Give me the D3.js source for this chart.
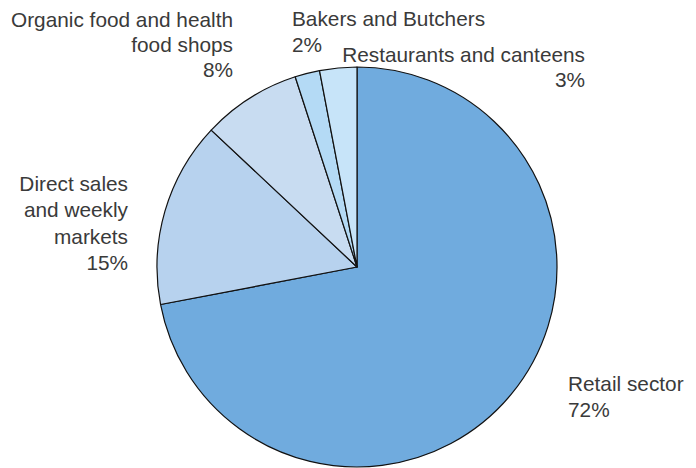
<!DOCTYPE html>
<html><head><meta charset="utf-8">
<script src="https://cdn.jsdelivr.net/npm/d3@7"></script>
<style>html,body{margin:0;padding:0;background:#fff;}svg{display:block;}</style>
</head><body>
<svg id="chart" width="696" height="468"></svg>
<script>
const categories = ["Retail sector", "Direct sales and weekly markets", "Organic food and health food shops", "Bakers and Butchers", "Restaurants and canteens"];
const values = [72, 15, 8, 2, 3];
const labelLines = [
  ["Retail sector", "72%"],
  ["Direct sales", "and weekly", "markets", "15%"],
  ["Organic food and health", "food shops", "8%"],
  ["Bakers and Butchers", "2%"],
  ["Restaurants and canteens", "3%"]
];
const colors = ["#70abde", "#b7d2ee", "#c8dcf1", "#b4daf5", "#c7e4f9"];

// layout (kept separate from data)
const cx = 357, cy = 267, R = 200;
const labelLayout = [
  {x: 568, y: 391, anchor: "start", lh: 26},
  {x: 128, y: 191, anchor: "end", lh: 26.3},
  {x: 233, y: 27, anchor: "end", lh: 25},
  {x: 292, y: 26, anchor: "start", lh: 26},
  {x: 585, y: 62, anchor: "end", lh: 25}
];

const svg = d3.select("#chart");
const g = svg.append("g").attr("transform", `translate(${cx},${cy})`);
const pie = d3.pie().sort(null).value(d => d)(values);
const arc = d3.arc().innerRadius(0).outerRadius(R);
const color = d3.scaleOrdinal().domain(categories).range(colors);

g.selectAll("path").data(pie).join("path")
  .attr("d", arc)
  .attr("fill", (d, i) => color(categories[i]))
  .attr("stroke", "#111")
  .attr("stroke-width", 1.2)
  .attr("stroke-linejoin", "round");

const labels = svg.append("g")
  .attr("font-family", "'Liberation Sans', Arial, Helvetica, sans-serif")
  .attr("font-size", 20.8)
  .attr("fill", "#3a3a3a");

labelLines.forEach((lines, i) => {
  const L = labelLayout[i];
  const t = labels.append("text")
    .attr("text-anchor", L.anchor)
    .attr("x", L.x).attr("y", L.y);
  lines.forEach((ln, j) => {
    t.append("tspan").attr("x", L.x).attr("y", L.y + j * L.lh).text(ln);
  });
});
</script>
</body></html>
